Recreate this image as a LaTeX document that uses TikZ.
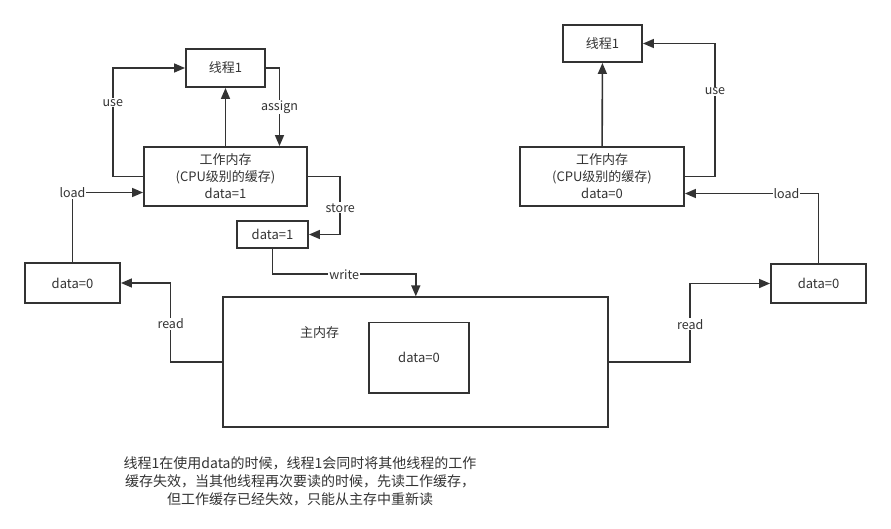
\documentclass[tikz,border=0pt]{standalone}
\usepackage{fontspec}
\setmainfont{Noto Sans CJK SC}
\usetikzlibrary{arrows.meta}
\definecolor{ink}{HTML}{333333}
\tikzset{
  box/.style={draw=ink, line width=1.9pt, rectangle, inner sep=0pt, align=center,
    text=ink, font=\fontsize{13}{17}\selectfont},
  arr/.style={draw=ink, line width=1.6pt, -{Triangle[length=11pt,width=9pt]}},
  lab/.style={fill=white, inner sep=1pt, text=ink, font=\fontsize{12.5}{15}\selectfont},
  plain/.style={text=ink, inner sep=0pt, align=center}
}
\begin{document}
\begin{tikzpicture}[x=1pt,y=-1pt]
\useasboundingbox (0,0) rectangle (891,528);
% left side
\node[box, minimum width=79pt, minimum height=38pt] (t1L) at (225.5,68) {线程1};
\node[box, minimum width=163pt, minimum height=59pt] (wmL) at (225.5,176.5) {工作内存\\(CPU级别的缓存)\\data=1};
\node[box, minimum width=71pt, minimum height=27pt] (d1) at (272.5,234.5) {data=1};
\node[box, minimum width=95pt, minimum height=40pt] (d0L) at (72.5,283) {data=0};
% main memory
\node[box, minimum width=385pt, minimum height=129.4pt] (main) at (415.8,362) {};
\node[box, minimum width=100pt, minimum height=70.5pt] (inner) at (419,357.75) {data=0};
\node[plain, font=\fontsize{13}{16}\selectfont] (mainlab) at (319.5,333) {主内存};
% right side
\node[box, minimum width=79pt, minimum height=37pt] (t1R) at (602.5,43.5) {线程1};
\node[box, minimum width=164pt, minimum height=59pt] (wmR) at (602,176.5) {工作内存\\(CPU级别的缓存)\\data=0};
\node[box, minimum width=95pt, minimum height=39pt] (d0R) at (818.5,283.5) {data=0};
% left connectors
\draw[arr] (wmL) -- (t1L);
\draw[arr] (t1L.east) -| ([xshift=54pt]wmL.north) node[lab, pos=0.75] {assign};
\draw[arr] (wmL.west) -- ++(-30.3,0) |- (t1L.west) node[lab, pos=0.34] {use};
\draw[arr] (d0L.north) |- ([yshift=-16pt]wmL.west) node[lab, pos=0.5] {load};
\draw[arr] (wmL.east) -- ++(32.3,0) |- (d1.east) node[lab, pos=0.27] {store};
\draw[arr] (d1.south) -- ++(0,25.3) -| (main.north) node[lab, pos=0.25] {write};
\draw[arr] (main.west) -- ++(-51.7,0) |- (d0L.east) node[lab, pos=0.24] {read};
% right connectors
\draw[arr] (wmR) -- (t1R);
\draw[arr] (wmR.east) -- ++(30,0) |- (t1R.east) node[lab, pos=0.32] {use};
\draw[arr] (d0R.north) |- ([yshift=-17pt]wmR.east) node[lab, pos=0.62] {load};
\draw[arr] (main.east) -- ++(81,0) |- (d0R.west) node[lab, pos=0.24] {read};
% note
\node[plain, font=\fontsize{14}{18}\selectfont] (note) at (300,481) {线程1在使用data的时候，线程1会同时将其他线程的工作\\缓存失效，当其他线程再次要读的时候，先读工作缓存，\\但工作缓存已经失效，只能从主存中重新读};
\end{tikzpicture}
\end{document}
